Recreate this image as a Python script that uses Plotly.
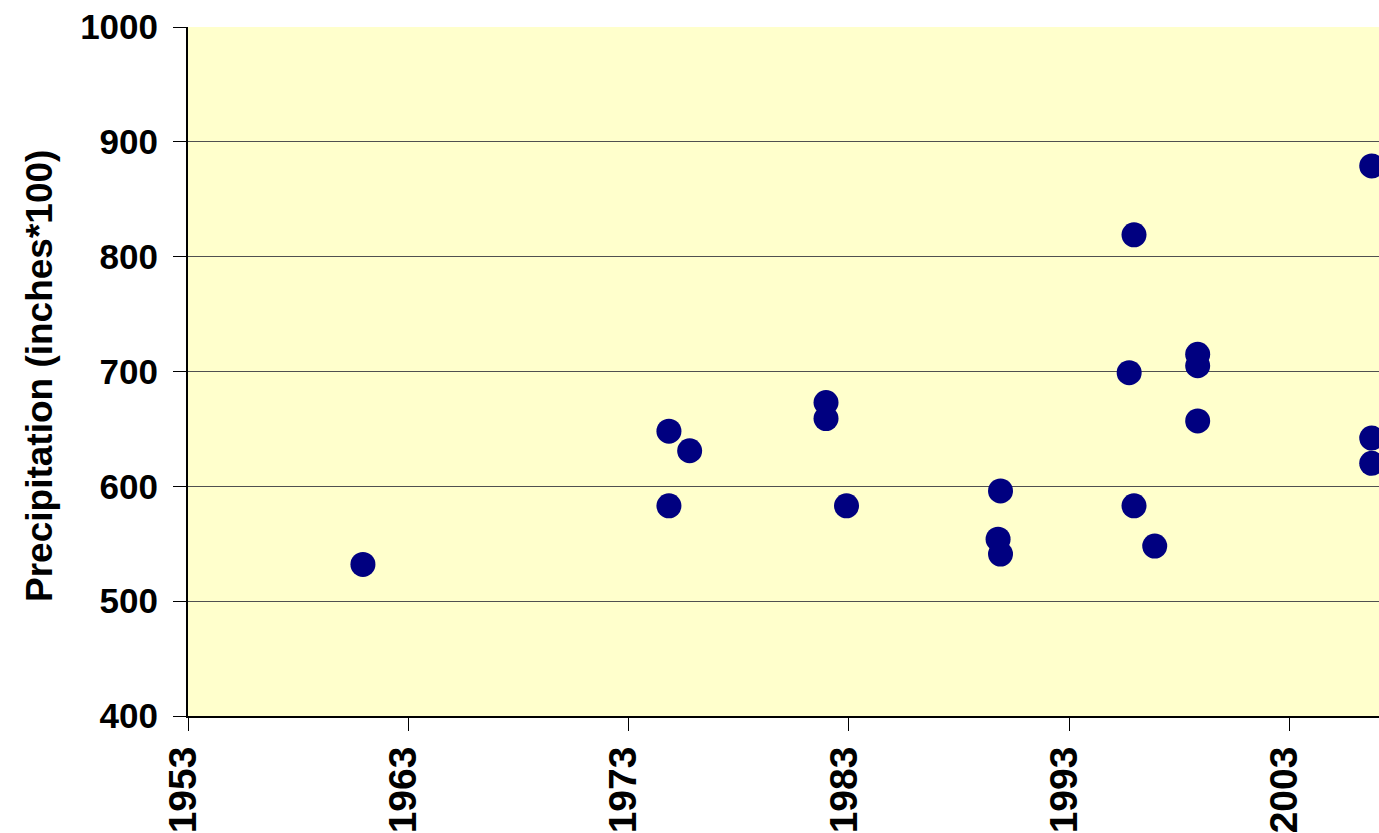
import plotly.graph_objects as go

# Observation dates (decimal years) and precipitation (inches*100)
obs_year = [1960.94, 1974.83, 1974.83, 1975.77, 1981.96, 1981.96, 1982.89,
            1989.88, 1989.77, 1989.88, 1995.94, 1995.72, 1995.94, 1996.88,
            1998.83, 1998.83, 1998.83, 2006.73, 2006.73, 2006.73]
precip = [532, 648, 583, 631, 673, 659, 583,
          596, 554, 541, 819, 699, 583, 548,
          715, 705, 657, 879, 642, 620]

x_ticks = [1953, 1963, 1973, 1983, 1993, 2003]
y_ticks = [400, 500, 600, 700, 800, 900, 1000]
y_title = "Precipitation (inches*100)"

FONT = "Arial, 'Liberation Sans', sans-serif"

fig = go.Figure()
fig.add_trace(go.Scatter(
    x=obs_year, y=precip, mode="markers",
    marker=dict(size=25, color="#000080", line=dict(width=0)),
    showlegend=False,
))

fig.update_layout(
    width=1379, height=833, autosize=False,
    margin=dict(l=188, r=0, t=27, b=114, pad=0),
    paper_bgcolor="white",
    plot_bgcolor="#FFFFCC",
    font=dict(family=FONT, color="black"),
)

fig.update_xaxes(
    range=[1953, 2007.06],
    tickvals=x_ticks, ticktext=[str(v) for v in x_ticks],
    tickangle=-90,
    tickfont=dict(family=FONT, size=39, color="black", weight="bold"),
    ticks="outside", ticklen=13, tickwidth=1, tickcolor="black",
    ticklabelstandoff=0, ticklabelshift=-5,
    showline=True, linecolor="black", linewidth=2,
    showgrid=False, zeroline=False,
)
fig.update_yaxes(
    range=[400, 1000],
    tickvals=y_ticks, ticktext=[str(v) for v in y_ticks],
    tickfont=dict(family=FONT, size=35, color="black", weight="bold"),
    ticks="outside", ticklen=13, tickwidth=1, tickcolor="black",
    ticklabelstandoff=8,
    showline=True, linecolor="black", linewidth=2,
    showgrid=True, gridcolor="#505050", gridwidth=1,
    zeroline=False,
)

fig.add_annotation(
    text=y_title, textangle=-90,
    xref="paper", yref="paper",
    x=(40 - 188) / 1191, y=0.4935,
    xanchor="center", yanchor="middle",
    showarrow=False,
    font=dict(family=FONT, size=37, color="black", weight="bold"),
)

post = (
    "var st=document.createElement('style');"
    "st.textContent='html,body{margin:0;padding:0;overflow:hidden;width:1379px;height:833px;}"
    ".plotly-graph-div{overflow:hidden;} .main-svg{overflow:hidden;}';"
    "document.head.appendChild(st);"
    "var gd=document.getElementById('{plot_id}');"
    "gd.style.width='1379px';gd.style.height='833px';gd.style.overflow='hidden';"
    "Plotly.relayout(gd,{width:1379,height:833});"
)

fig.write_html("out.html",
               config={"responsive": False, "displayModeBar": False},
               post_script=post)
